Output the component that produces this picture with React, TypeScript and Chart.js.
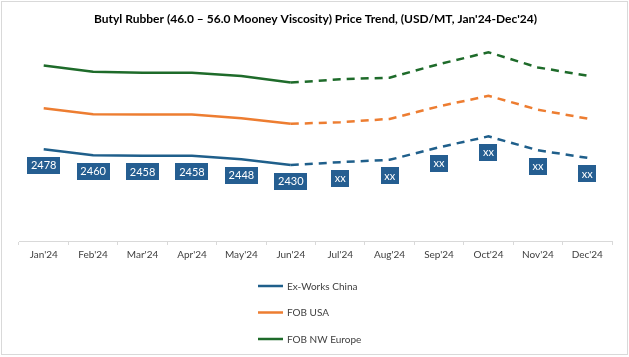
import React, { useEffect, useRef } from "react";
import { Chart, registerables } from "chart.js";

Chart.register(...registerables);

const TITLE = "Butyl Rubber (46.0 – 56.0 Mooney Viscosity) Price Trend, (USD/MT, Jan'24-Dec'24)";
const months = ["Jan'24", "Feb'24", "Mar'24", "Apr'24", "May'24", "Jun'24", "Jul'24", "Aug'24", "Sep'24", "Oct'24", "Nov'24", "Dec'24"];
const exWorksChina = [2478, 2460, 2458, 2458, 2448, 2430, 2439, 2446, 2484, 2517, 2475, 2452];
const fobUSA = [2602, 2584, 2583, 2583, 2572, 2555, 2560, 2570, 2608, 2640, 2598, 2571];
const fobNWEurope = [2732, 2713, 2710, 2710, 2700, 2680, 2690, 2695, 2736, 2772, 2726, 2701];
const chinaLabels = ["2478", "2460", "2458", "2458", "2448", "2430", "xx", "xx", "xx", "xx", "xx", "xx"];
const seriesNames = ["Ex-Works China", "FOB USA", "FOB NW Europe"];
const yMin = 2200;
const yMax = 2800;
const forecastFrom = 5; // segments after Jun'24 are dashed

const FONT = "Lato, 'Liberation Sans', sans-serif";
const COLORS = ["#1F5F8B", "#ED7D31", "#1E6B2A"];
const BOX = "#255E91";

const decorPlugin = {
  id: "decor",
  beforeDraw(chart: any) {
    const { ctx, width, height } = chart;
    ctx.save();
    ctx.fillStyle = "#FFFFFF";
    ctx.fillRect(0, 0, width, height);
    ctx.restore();
  },
  afterDatasetsDraw(chart: any) {
    const { ctx } = chart;
    const meta = chart.getDatasetMeta(0);
    ctx.save();
    ctx.font = `11px ${FONT}`;
    ctx.textAlign = "center";
    ctx.textBaseline = "middle";
    meta.data.forEach((pt: any, i: number) => {
      const text = chinaLabels[i];
      const tw = ctx.measureText(text).width;
      const w = Math.round(tw + 7);
      const h = 17;
      const cx = pt.x;
      const cy = pt.y + 16;
      ctx.fillStyle = BOX;
      ctx.fillRect(Math.round(cx - w / 2), Math.round(cy - h / 2), w, h);
      ctx.fillStyle = "#FFFFFF";
      ctx.fillText(text, cx, cy + 0.5);
    });
    ctx.restore();
  },
  afterDraw(chart: any) {
    const { ctx, width, height } = chart;
    ctx.save();
    // title
    ctx.fillStyle = "#000000";
    ctx.font = `bold 12px ${FONT}`;
    ctx.textAlign = "center";
    ctx.textBaseline = "middle";
    ctx.fillText(TITLE, 315.5, 19);
    // legend
    const ys = [286, 312.5, 339];
    seriesNames.forEach((name, i) => {
      ctx.strokeStyle = COLORS[i];
      ctx.lineWidth = 2.5;
      ctx.setLineDash([]);
      ctx.beginPath();
      ctx.moveTo(258, ys[i]);
      ctx.lineTo(283, ys[i]);
      ctx.stroke();
      ctx.fillStyle = "#404040";
      ctx.font = `10px ${FONT}`;
      ctx.textAlign = "left";
      ctx.textBaseline = "middle";
      ctx.fillText(name, 287, ys[i] + 0.5);
    });
    // border
    ctx.strokeStyle = "#D9D9D9";
    ctx.lineWidth = 1;
    ctx.strokeRect(1.5, 1.5, width - 3, height - 4);
    ctx.restore();
  },
};

export default function App() {
  const ref = useRef<HTMLCanvasElement>(null);
  useEffect(() => {
    document.body.style.margin = "0";
    const dash = (ctx: any) => (ctx.p0DataIndex >= forecastFrom ? [8, 6] : undefined);
    const mk = (label: string, data: number[], color: string) => ({
      label,
      data,
      borderColor: color,
      backgroundColor: color,
      borderWidth: 2.5,
      pointRadius: 0,
      tension: 0,
      fill: false,
      segment: { borderDash: dash },
    });
    const chart = new Chart(ref.current!, {
      type: "line",
      data: {
        labels: months,
        datasets: [
          mk(seriesNames[0], exWorksChina, COLORS[0]),
          mk(seriesNames[1], fobUSA, COLORS[1]),
          mk(seriesNames[2], fobNWEurope, COLORS[2]),
        ],
      },
      options: {
        responsive: false,
        animation: false,
        devicePixelRatio: 1,
        layout: { padding: { left: 19, right: 17, top: 43, bottom: 92 } },
        plugins: { legend: { display: false }, title: { display: false }, tooltip: { enabled: false } },
        scales: {
          x: {
            type: "category",
            offset: true,
            grid: { display: true, drawOnChartArea: false, drawTicks: true, tickLength: 4, color: "#D9D9D9", offset: true },
            border: { display: true, color: "#D9D9D9", width: 1 },
            ticks: { font: { family: FONT, size: 10 }, color: "#404040", padding: 4, maxRotation: 0, autoSkip: false },
            afterFit: (s: any) => { s.height = 24; },
          },
          y: { display: false, min: yMin, max: yMax },
        },
      },
      plugins: [decorPlugin],
    });
    return () => chart.destroy();
  }, []);
  return <canvas ref={ref} width={629} height={357} style={{ display: "block" }} />;
}
